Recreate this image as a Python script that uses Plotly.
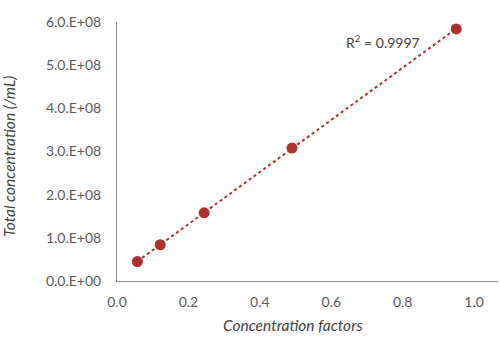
import numpy as np
import plotly.graph_objects as go

conc_factors = [0.057, 0.121, 0.244, 0.49, 0.95]
total_conc = [4.5e7, 8.4e7, 1.58e8, 3.08e8, 5.84e8]
y_tick_vals = [0, 1e8, 2e8, 3e8, 4e8, 5e8, 6e8]
y_tick_text = ["0.0.E+00", "1.0.E+08", "2.0.E+08", "3.0.E+08", "4.0.E+08", "5.0.E+08", "6.0.E+08"]
x_tick_vals = [0.0, 0.2, 0.4, 0.6, 0.8, 1.0]
r2_label = "R<sup>2</sup> = 0.9997"
x_title = "Concentration factors"
y_title = "Total concentration (/mL)"

red = "#B0302C"
grey_text = "#595959"
title_col = "#404040"

slope, intercept = np.polyfit(conc_factors, total_conc, 1)
fx = [min(conc_factors), max(conc_factors)]
fy = [slope * v + intercept for v in fx]

fig = go.Figure()
fig.add_trace(go.Scatter(x=fx, y=fy, mode="lines",
                         line=dict(color=red, width=2, dash="dot"),
                         hoverinfo="skip", showlegend=False))
fig.add_trace(go.Scatter(x=conc_factors, y=total_conc, mode="markers",
                         marker=dict(color=red, size=11),
                         showlegend=False))

fig.add_annotation(x=0.745, y=5.55e8, xref="x", yref="y", text=r2_label,
                   showarrow=False, font=dict(family="Lato", size=14, color=title_col))
fig.add_annotation(x=0.462, y=-0.170, xref="paper", yref="paper",
                   text="<i>" + x_title + "</i>", showarrow=False,
                   xanchor="center", yanchor="middle",
                   font=dict(family="Lato", size=15.5, color=title_col))
fig.add_annotation(x=-0.2835, y=0.4826, xref="paper", yref="paper",
                   text="<i>" + y_title + "</i>", showarrow=False, textangle=-90,
                   xanchor="center", yanchor="middle",
                   font=dict(family="Lato", size=15.5, color=title_col))

fig.update_layout(
    width=500, height=350,
    margin=dict(l=117, r=2, t=22, b=69),
    plot_bgcolor="white", paper_bgcolor="white",
    font=dict(family="Lato", size=14, color=grey_text),
)
fig.update_xaxes(range=[0, 1.067], tickvals=x_tick_vals, tickformat=".1f",
                 showgrid=False, zeroline=False, showline=True, linecolor="#8c8c8c",
                 linewidth=1, ticks="", ticklen=0, ticklabelstandoff=8)
fig.update_yaxes(range=[0, 6e8], tickvals=y_tick_vals, ticktext=y_tick_text,
                 showgrid=False, zeroline=False, showline=True, linecolor="#8c8c8c",
                 linewidth=1, ticks="", ticklen=0, ticklabelstandoff=12)

fig.write_html("out.html")
